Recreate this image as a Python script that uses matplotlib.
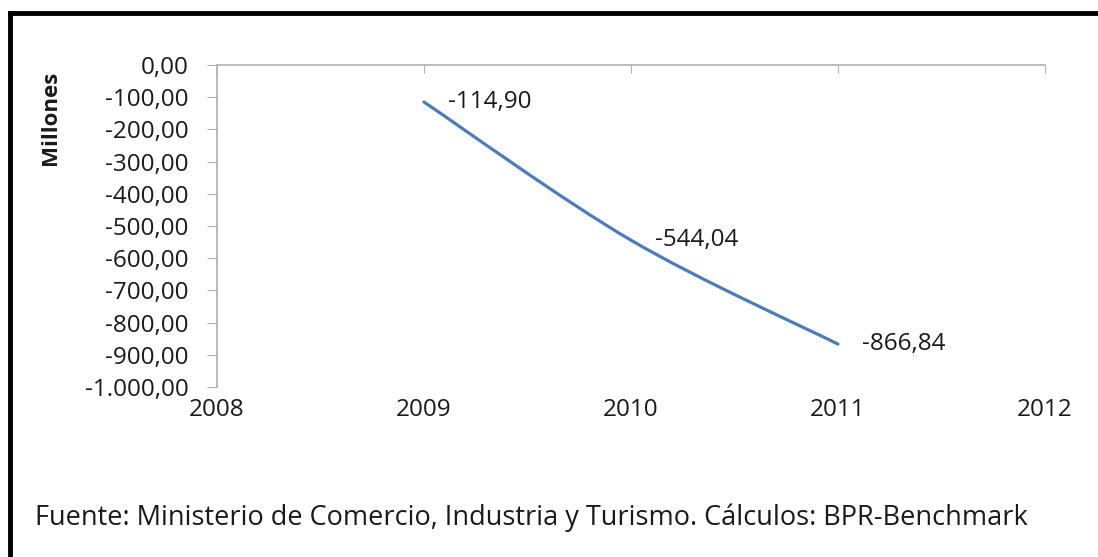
import matplotlib
matplotlib.use("Agg")
import matplotlib.pyplot as plt
from matplotlib.path import Path
from matplotlib.patches import PathPatch
from matplotlib.lines import Line2D
from matplotlib.ticker import FuncFormatter

# Balanza comercial (millones)
years = [2009, 2010, 2011]
values = [-114.90, -544.04, -866.84]
x_ticks = [2008, 2009, 2010, 2011, 2012]
y_ticks = [0, -100, -200, -300, -400, -500, -600, -700, -800, -900, -1000]

plt.rcParams['font.family'] = ['Open Sans', 'DejaVu Sans']


def es_fmt(v, pos=None):
    s = f"{v:,.2f}"
    return s.replace(",", "X").replace(".", ",").replace("X", ".")


fig = plt.figure(figsize=(10.98, 5.57), dpi=100)
ax = fig.add_axes([0.1976, 0.3052, 0.9517 - 0.1976, 0.8833 - 0.3052])

# smoothed line (Bezier through the data points, like Excel)
pts = list(zip(years, values))
ext = [pts[0]] + pts + [pts[-1]]
verts = [pts[0]]
codes = [Path.MOVETO]
for i in range(1, len(ext) - 2):
    p0, p1, p2, p3 = ext[i - 1], ext[i], ext[i + 1], ext[i + 2]
    c1 = (p1[0] + (p2[0] - p0[0]) / 6, p1[1] + (p2[1] - p0[1]) / 6)
    c2 = (p2[0] - (p3[0] - p1[0]) / 6, p2[1] - (p3[1] - p1[1]) / 6)
    verts += [c1, c2, p2]
    codes += [Path.CURVE4] * 3
ax.add_patch(PathPatch(Path(verts, codes), facecolor='none',
                       edgecolor='#4A7EBB', linewidth=2.3, capstyle='round'))

for x, y in zip(years, values):
    ax.annotate(es_fmt(y), (x, y), xytext=(17, 0), textcoords='offset points',
                ha='left', va='center', fontsize=17.5, color='#1a1a1a')

ax.set_xlim(2008, 2012)
ax.set_ylim(-1000, 0)
ax.set_xticks(x_ticks)
ax.set_yticks(y_ticks)
ax.yaxis.set_major_formatter(FuncFormatter(es_fmt))

for s in ['bottom', 'right']:
    ax.spines[s].set_visible(False)
for s in ['left', 'top']:
    ax.spines[s].set_color('#B0B0B0')
    ax.spines[s].set_linewidth(1.2)

ax.tick_params(axis='x', top=True, bottom=False, labeltop=False, labelbottom=True,
               direction='in', length=6, color='#B0B0B0', labelsize=17.5,
               labelcolor='#1a1a1a', pad=8)
ax.tick_params(axis='y', direction='out', length=7.5, color='#B0B0B0', labelsize=17.5,
               labelcolor='#1a1a1a', pad=13)

fig.text(50 / 1098, 1 - 118 / 557, 'Millones', rotation=90, ha='center', va='center',
         fontsize=16, fontweight='bold', color='#1a1a1a')

fig.text(35 / 1098, 1 - 518 / 557,
         'Fuente: Ministerio de Comercio, Industria y Turismo. Cálculos: BPR-Benchmark',
         ha='left', va='center', fontsize=19.5, color='#1a1a1a')

# cropped thick frame (top and left edges)
fig.add_artist(Line2D([10 / 1098, 10 / 1098], [0, 1 - 13 / 557], color='black',
                      linewidth=3.5, transform=fig.transFigure))
fig.add_artist(Line2D([10 / 1098, 1], [1 - 13 / 557, 1 - 13 / 557], color='black',
                      linewidth=3.5, transform=fig.transFigure,
                      solid_capstyle='projecting'))

fig.savefig('out.png', dpi=100)
